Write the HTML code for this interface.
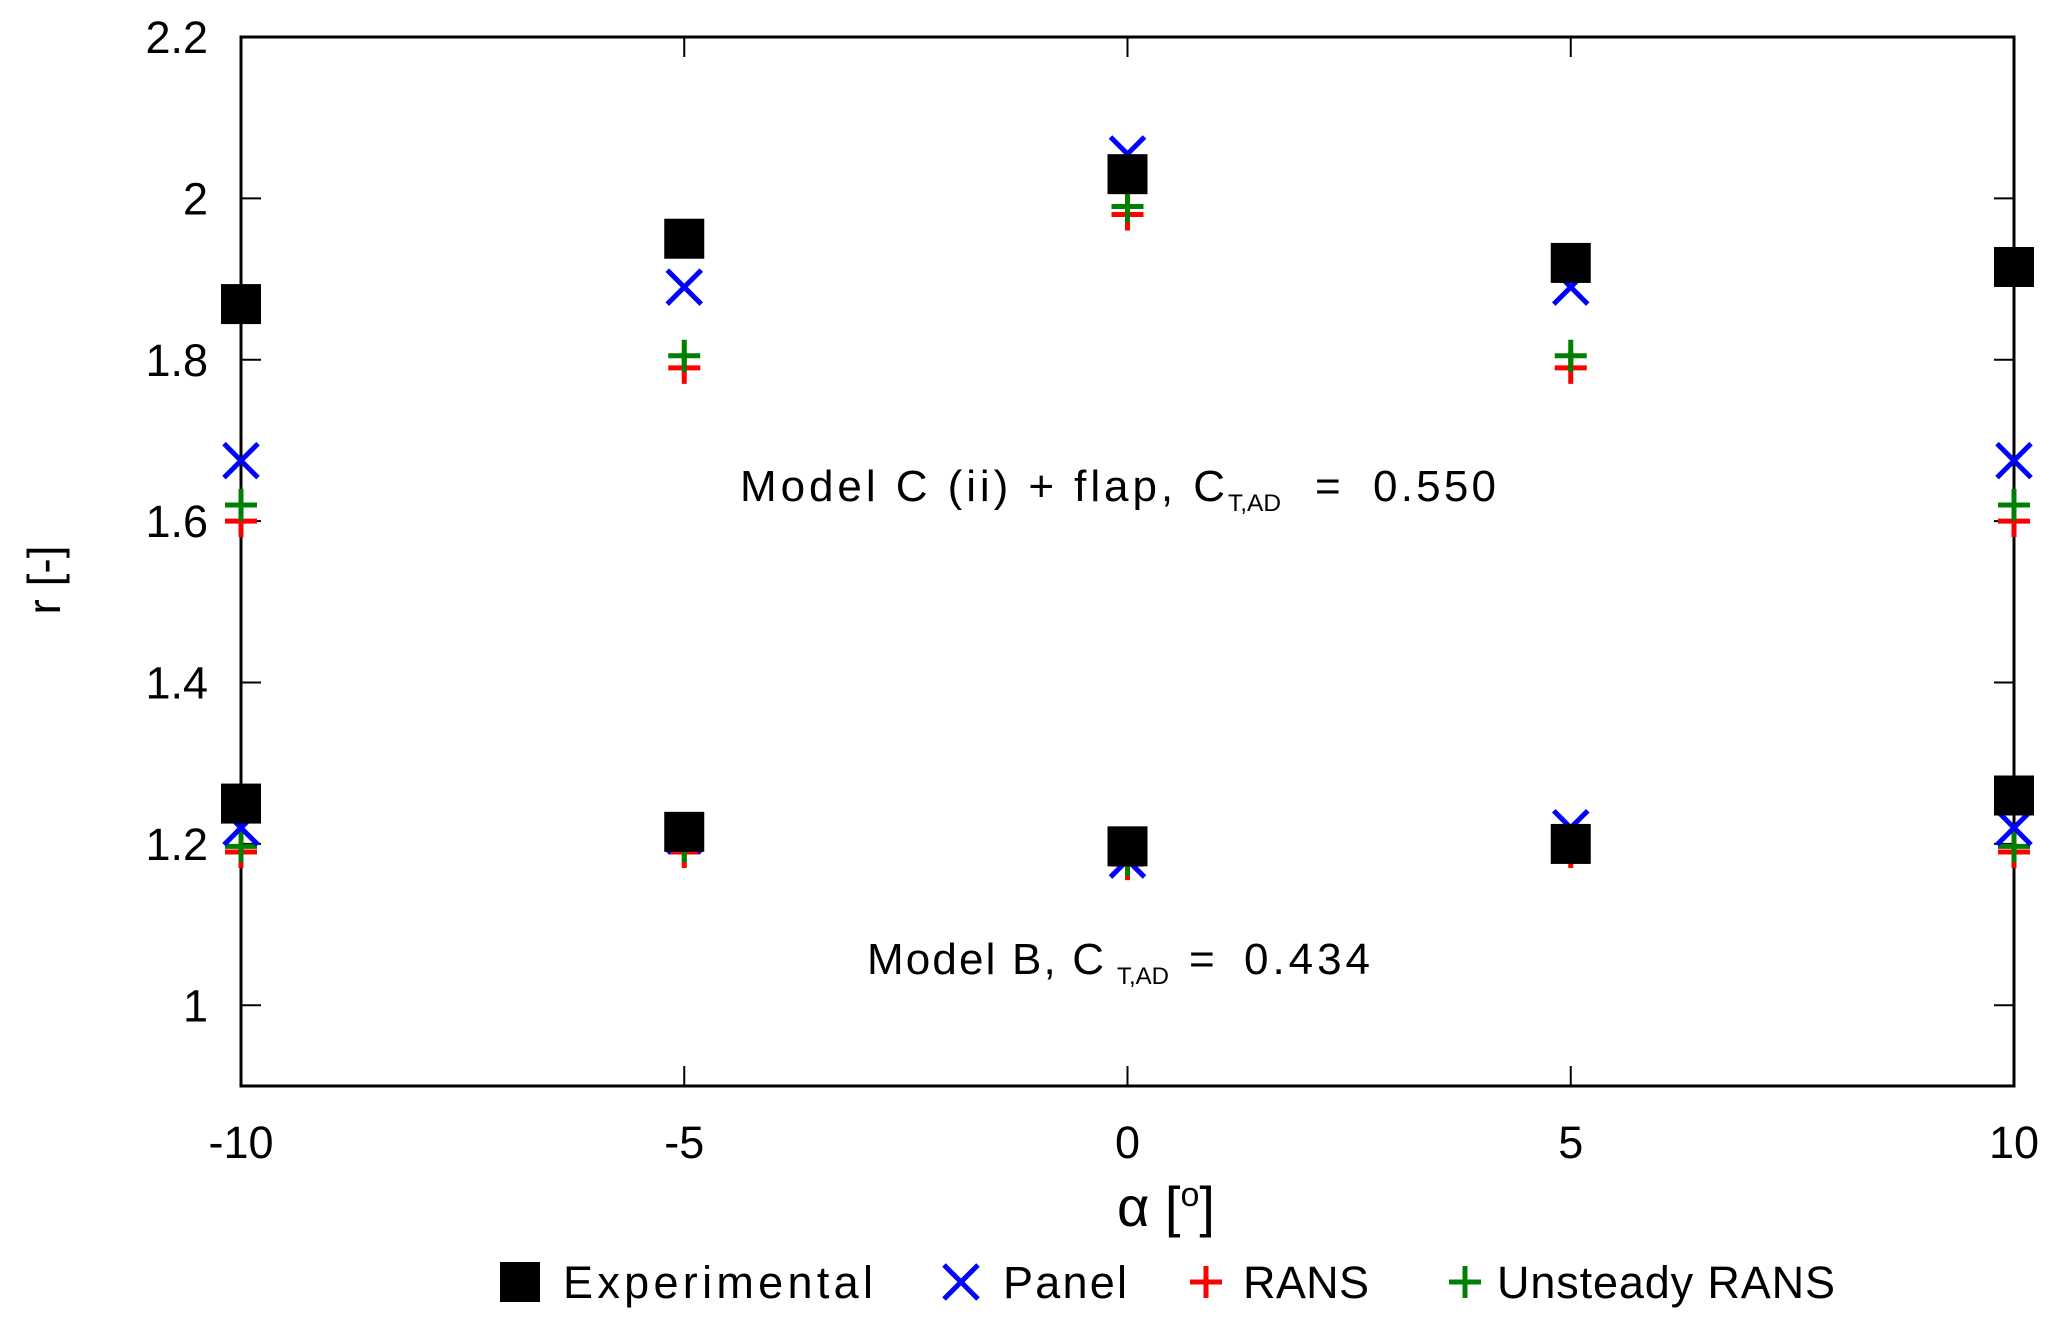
<!DOCTYPE html>
<html><head><meta charset="utf-8"><style>
html,body{margin:0;padding:0;background:#fff}
svg{display:block;font-family:"Liberation Sans",Arial,sans-serif}
</style></head><body>
<svg id="chart" width="2067" height="1328" viewBox="0 0 2067 1328">
<g id="axes"></g>
<g id="marks"></g>
<text x="60" y="580" font-size="46" text-anchor="middle" transform="rotate(-90 60 580)">r [-]</text>
<text x="1166" y="1226" font-size="56" text-anchor="middle">α [<tspan font-size="34" dy="-20">o</tspan><tspan dy="20">]</tspan></text>
<g>
<text x="740" y="501" font-size="44" textLength="485" lengthAdjust="spacing">Model C (ii) +  flap, C</text>
<text x="1228" y="511" font-size="24" textLength="53" lengthAdjust="spacingAndGlyphs">T,AD</text>
<text x="1315" y="501" font-size="44">=</text>
<text x="1373" y="501" font-size="44" textLength="123" lengthAdjust="spacing">0.550</text>
</g>
<g>
<text x="867" y="974" font-size="44" textLength="237" lengthAdjust="spacing">Model B, C</text>
<text x="1117" y="984" font-size="24" textLength="52" lengthAdjust="spacingAndGlyphs">T,AD</text>
<text x="1189" y="974" font-size="44">=</text>
<text x="1244" y="974" font-size="44" textLength="126" lengthAdjust="spacing">0.434</text>
</g>
<g>
<rect x="500" y="1262" width="40" height="40" fill="#000"/>
<text x="563" y="1298" font-size="45" textLength="310" lengthAdjust="spacing">Experimental</text>
<path d="M944 1265 L978 1299 M978 1265 L944 1299" stroke="#0000ff" stroke-width="5"/>
<text x="1003" y="1298" font-size="45" textLength="124" lengthAdjust="spacing">Panel</text>
<path d="M1190 1282 L1222 1282 M1206 1266 L1206 1298" stroke="#ff0000" stroke-width="5"/>
<text x="1243" y="1298" font-size="45" textLength="126" lengthAdjust="spacing">RANS</text>
<path d="M1449 1282 L1481 1282 M1465 1266 L1465 1298" stroke="#008000" stroke-width="5"/>
<text x="1497" y="1298" font-size="45" textLength="338" lengthAdjust="spacing">Unsteady RANS</text>
</g>
</svg>
<script>
const xTicks=[-10,-5,0,5,10];
const yTicks=[1,1.2,1.4,1.6,1.8,2,2.2];
const yTickLabels=["1","1.2","1.4","1.6","1.8","2","2.2"];
const alphas=[-10,-5,0,5,10];
const expUpper=[1.869,1.95,2.03,1.92,1.915];
const expLower=[1.25,1.215,1.197,1.2,1.26];
const panelUpper=[1.675,1.89,2.055,1.89,1.675];
const panelLower=[1.22,1.21,1.18,1.22,1.22];
const ransUpper=[1.6,1.79,1.98,1.79,1.6];
const ransLower=[1.19,1.19,1.175,1.19,1.19];
const uransUpper=[1.62,1.805,1.99,1.805,1.62];
const uransLower=[1.197,1.197,1.18,1.197,1.197];

const L=241,R=2014,T=37,B=1086,X0=-10,X1=10,Y0=0.9,Y1=2.2;
const sx=v=>L+(v-X0)/(X1-X0)*(R-L);
const sy=v=>B-(v-Y0)/(Y1-Y0)*(B-T);
const NS="http://www.w3.org/2000/svg";
function mk(tag,attrs,parent){const e=document.createElementNS(NS,tag);for(const k in attrs)e.setAttribute(k,attrs[k]);parent.appendChild(e);return e;}
const ax=document.getElementById('axes'),mg=document.getElementById('marks');
let f=mk('rect',{x:L,y:T,width:R-L,height:B-T,fill:'none',stroke:'#000','stroke-width':3},ax);


xTicks.forEach(v=>{const x=sx(v);
 let t=mk('path',{d:`M${x} ${B} L${x} ${B-20} M${x} ${T} L${x} ${T+20}`,stroke:'#000','stroke-width':2},ax);
 
 
 let l=mk('text',{x:x,y:1158,'font-size':45,'text-anchor':'middle'},ax);l.textContent=String(v);
 
 
});
yTicks.forEach((v,i)=>{const y=sy(v);
 let t=mk('path',{d:`M${L} ${y} L${L+20} ${y} M${R} ${y} L${R-20} ${y}`,stroke:'#000','stroke-width':2},ax);
 
 
 let l=mk('text',{x:208,y:y+16,'font-size':45,'text-anchor':'end'},ax);l.textContent=yTickLabels[i];
 
 
});
function square(vals,name){vals.forEach((v,i)=>{let e=mk('rect',{x:sx(alphas[i])-20,y:sy(v)-20,width:40,height:40,fill:'#000'},mg);
 
 });}
function cross(vals,name){vals.forEach((v,i)=>{const x=sx(alphas[i]),y=sy(v),h=17;let e=mk('path',{d:`M${x-h} ${y-h} L${x+h} ${y+h} M${x+h} ${y-h} L${x-h} ${y+h}`,stroke:'#0000ff','stroke-width':5},mg);
 
 });}
function plus(vals,color,name){vals.forEach((v,i)=>{const x=sx(alphas[i]),y=sy(v),h=16;let e=mk('path',{d:`M${x-h} ${y} L${x+h} ${y} M${x} ${y-h} L${x} ${y+h}`,stroke:color,'stroke-width':5},mg);
 
 });}
plus(ransUpper,'#ff0000','rans-point-model-c');
plus(ransLower,'#ff0000','rans-point-model-b');
plus(uransUpper,'#008000','urans-point-model-c');
plus(uransLower,'#008000','urans-point-model-b');
cross(panelUpper,'panel-point-model-c');
cross(panelLower,'panel-point-model-b');
square(expUpper,'experimental-point-model-c');
square(expLower,'experimental-point-model-b');
</script>
</body></html>
